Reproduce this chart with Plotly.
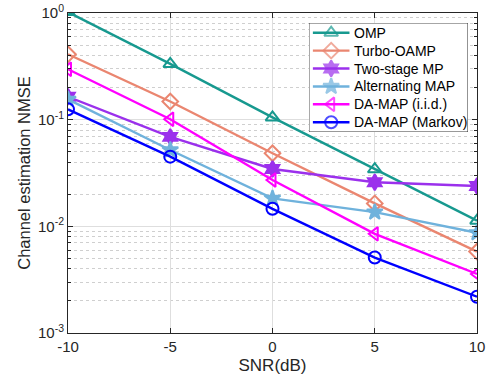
import plotly.graph_objects as go

# SNR sweep (dB)
snr_db = [-10, -5, 0, 5, 10]

# Channel estimation NMSE for each algorithm
nmse_omp = [1.02, 0.333, 0.105, 0.0343, 0.0113]
nmse_turbo_oamp = [0.41, 0.148, 0.0484, 0.0164, 0.0058]
nmse_two_stage_mp = [0.164, 0.069, 0.0345, 0.0259, 0.0239]
nmse_alternating_map = [0.155, 0.052, 0.0183, 0.0136, 0.0087]
nmse_da_map_iid = [0.297, 0.101, 0.0272, 0.0085, 0.00358]
nmse_da_map_markov = [0.125, 0.045, 0.0146, 0.0051, 0.00219]

series_names = ["OMP", "Turbo-OAMP", "Two-stage MP", "Alternating MAP",
                "DA-MAP (i.i.d.)", "DA-MAP (Markov)"]
series_values = [nmse_omp, nmse_turbo_oamp, nmse_two_stage_mp,
                 nmse_alternating_map, nmse_da_map_iid, nmse_da_map_markov]
series_colors = ["#17998f", "#ea8670", "#9b30ec", "#6fb2dc", "#ff00ff", "#0000ff"]
series_symbols = ["triangle-up-open", "diamond-open", "hexagram", "star",
                  "triangle-left-open", "circle-open"]

x_ticks = [-10, -5, 0, 5, 10]
y_ticks = [1e-3, 1e-2, 1e-1, 1e0]
y_ticktext = ["10<sup>-3</sup>", "10<sup>-2</sup>", "10<sup>-1</sup>", "10<sup>0</sup>"]
y_minor = [m * 10.0 ** e for e in (-3, -2, -1) for m in range(2, 10)]

font_family = "Liberation Sans, Arial, sans-serif"
line_w = 2.4
marker_size = 12

fig = go.Figure()
for name, vals, color, symbol in zip(series_names, series_values,
                                     series_colors, series_symbols):
    fig.add_trace(go.Scatter(
        x=snr_db, y=vals, name=name, mode="lines+markers",
        line=dict(color=color, width=line_w),
        marker=dict(symbol=symbol, size=marker_size, color=color,
                    line=dict(color=color, width=2)),
        showlegend=False,
    ))

# Legend drawn on a small overlay subplot (units: 0..1 across the box,
# rows counted from the top) so that row spacing can be kept compact.
n_rows = len(series_names)
box_x = [0, 1, 1, 0, 0]
box_y = [0, 0, 1, 1, 0]
fig.add_trace(go.Scatter(
    x=box_x, y=box_y, xaxis="x2", yaxis="y2", mode="lines",
    fill="toself", fillcolor="white",
    line=dict(color="#262626", width=1), hoverinfo="skip", showlegend=False,
))
row_pad = 0.09
row_step = (1 - 2 * row_pad) / (n_rows - 1)
for i, (name, color, symbol) in enumerate(zip(series_names, series_colors,
                                               series_symbols)):
    yy = 1 - row_pad - i * row_step
    fig.add_trace(go.Scatter(
        x=[0.025, 0.14, 0.255], y=[yy, yy, yy], xaxis="x2", yaxis="y2",
        mode="lines+markers",
        line=dict(color=color, width=line_w),
        marker=dict(symbol=symbol, size=[0, marker_size, 0], color=color,
                    line=dict(color=color, width=2)),
        hoverinfo="skip", showlegend=False,
    ))
    fig.add_annotation(
        x=0.272, y=yy, xref="x2", yref="y2", text=name, showarrow=False,
        xanchor="left", yanchor="middle",
        font=dict(family=font_family, size=14, color="#000000"),
    )

fig.update_layout(
    width=487, height=380,
    margin=dict(l=68, r=10, t=13, b=47),
    paper_bgcolor="white", plot_bgcolor="white",
    font=dict(family=font_family, size=15, color="#262626"),
    showlegend=False,
    xaxis=dict(
        range=[-10, 10], tickvals=x_ticks, ticktext=[str(v) for v in x_ticks],
        showline=True, linecolor="#262626", linewidth=1, mirror="ticks",
        ticks="inside", ticklen=5, tickcolor="#262626",
        tickfont=dict(size=15), automargin=False,
        showgrid=True, gridcolor="#dedede", gridwidth=1,
        zeroline=False,
        title=dict(text="SNR(dB)", font=dict(size=17), standoff=5),
    ),
    yaxis=dict(
        type="log", range=[-3, 0],
        tickvals=y_ticks, ticktext=y_ticktext,
        showline=True, linecolor="#262626", linewidth=1, mirror="allticks",
        ticks="inside", ticklen=5, tickcolor="#262626",
        tickfont=dict(size=15), automargin=False,
        showgrid=True, gridcolor="#dedede", gridwidth=1,
        zeroline=False,
        minor=dict(tickvals=y_minor, ticks="inside", ticklen=3,
                   tickcolor="#262626", showgrid=True,
                   gridcolor="#cfcfcf", griddash="dot", gridwidth=1),
        title=dict(text="Channel estimation NMSE", font=dict(size=16.5), standoff=3),
    ),
    xaxis2=dict(domain=[0.589, 0.978], range=[0, 1], visible=False,
                fixedrange=True, anchor="y2", automargin=False),
    yaxis2=dict(domain=[0.628, 0.969], range=[0, 1], visible=False,
                fixedrange=True, anchor="x2", automargin=False),
)

fig.write_html("out.html")
